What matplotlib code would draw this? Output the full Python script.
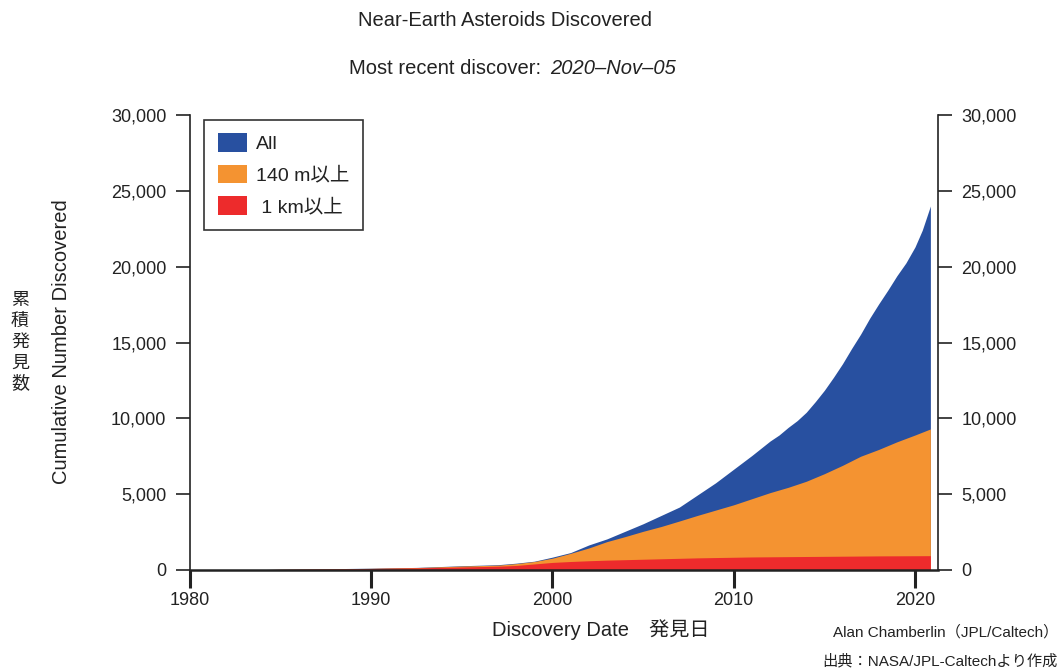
import matplotlib.pyplot as plt
from matplotlib.patches import Patch

plt.rcParams['font.family'] = ['Liberation Sans', 'Noto Sans CJK JP']

# 累積発見数（千個単位で読み取り）
# All は後半の曲がりが大きいので半年刻み
years_all = [1983.7, 1985.0, 1988.0, 1990.0, 1992.5, 1995.0, 1997.0, 1998.0, 1999.0,
             2000.0, 2001.0, 2002.0, 2003.0, 2004.0, 2005.0, 2006.0, 2007.0, 2008.0,
             2009.0, 2010.0, 2011.0, 2012.0, 2012.5, 2013.0, 2013.5, 2014.0, 2014.5,
             2015.0, 2015.5, 2016.0, 2016.5, 2017.0, 2017.5, 2018.0, 2018.5, 2019.0,
             2019.5, 2020.0, 2020.4, 2020.85]
all_k = [0.02, 0.05, 0.09, 0.12, 0.17, 0.28, 0.35, 0.45, 0.58,
         0.85, 1.15, 1.65, 2.05, 2.55, 3.05, 3.6, 4.15, 4.95,
         5.75, 6.65, 7.55, 8.5, 8.9, 9.4, 9.85, 10.4, 11.1,
         11.85, 12.7, 13.6, 14.6, 15.55, 16.6, 17.55, 18.45, 19.4,
         20.25, 21.3, 22.4, 24.0]

years = [1983.7, 1985.0, 1988.0, 1990.0, 1992.5, 1995.0, 1997.0, 1998.0, 1999.0,
         2000.0, 2001.0, 2002.0, 2003.0, 2004.0, 2005.0, 2006.0, 2007.0, 2008.0,
         2009.0, 2010.0, 2011.0, 2012.0, 2013.0, 2014.0, 2015.0, 2016.0, 2017.0,
         2018.0, 2019.0, 2020.0, 2020.85]
m140_k = [0.02, 0.05, 0.08, 0.11, 0.16, 0.26, 0.32, 0.42, 0.56,
          0.78, 1.1, 1.45, 1.87, 2.2, 2.55, 2.87, 3.23, 3.6,
          3.95, 4.3, 4.7, 5.1, 5.45, 5.85, 6.35, 6.9, 7.5,
          7.95, 8.45, 8.9, 9.3]
km1_k = [0.02, 0.04, 0.07, 0.1, 0.14, 0.2, 0.25, 0.3, 0.4,
         0.5, 0.56, 0.61, 0.65, 0.68, 0.71, 0.74, 0.77, 0.8,
         0.82, 0.84, 0.86, 0.87, 0.88, 0.89, 0.9, 0.91, 0.92,
         0.93, 0.935, 0.94, 0.945]

labels = ['All', '140 m以上', ' 1 km以上']
colors = ['#2850a0', '#f49331', '#ed2b2c']
yticks = [0, 5000, 10000, 15000, 20000, 25000, 30000]
xticks = [1980, 1990, 2000, 2010, 2020]

text_c = '#222222'

fig = plt.figure(figsize=(10.62, 6.70), dpi=100)
ax = fig.add_axes([190 / 1062, 1 - 570 / 670, 748 / 1062, 455 / 670])

# 面グラフ（後ろから順に重ねる）
series = [(years_all, all_k), (years, m140_k), (years, km1_k)]
for (xs, vals), c in zip(series, colors):
    ax.fill_between(xs, [v * 1000 for v in vals], 0, color=c, linewidth=0)

ax.set_xlim(1980, 2021.27)
ax.set_ylim(0, 30000)
ax.set_xticks(xticks)
ax.set_yticks(yticks)
ax.set_yticklabels([f'{v:,}' for v in yticks])

ax.spines['top'].set_visible(False)
for s in ['left', 'right']:
    ax.spines[s].set_linewidth(1.2)
    ax.spines[s].set_color(text_c)
ax.spines['bottom'].set_linewidth(1.8)
ax.spines['bottom'].set_color(text_c)

ax.tick_params(axis='y', which='both', left=True, right=True, labelleft=True,
               labelright=True, direction='out', length=10, width=1.2,
               pad=7, labelsize=13, colors=text_c)
ax.tick_params(axis='x', direction='out', length=13, width=2.2, pad=3,
               labelsize=13, colors=text_c)

# 凡例
handles = [Patch(facecolor=c, edgecolor='none') for c in colors]
leg = ax.legend(handles, labels, loc='upper left', bbox_to_anchor=(0.019, 0.99),
                borderaxespad=0, fontsize=14, handlelength=1.5, handleheight=1.1,
                handletextpad=0.45, labelspacing=0.6, borderpad=0.7,
                fancybox=False, framealpha=1)
leg.get_frame().set_edgecolor('#333333')
leg.get_frame().set_linewidth(1.2)
for t in leg.get_texts():
    t.set_color(text_c)

# タイトルとラベル
fig.text(505 / 1062, 1 - 20 / 670, 'Near-Earth Asteroids Discovered',
         ha='center', va='center', fontsize=14.5, color=text_c)
fig.text(541 / 1062, 1 - 68 / 670, 'Most recent discover:',
         ha='right', va='center', fontsize=14.5, color=text_c)
fig.text(550 / 1062, 1 - 68 / 670, '2020–Nov–05', ha='left', va='center',
         fontsize=14.5, style='italic', color=text_c)

fig.text(62 / 1062, 1 - 342 / 670, 'Cumulative Number Discovered', rotation=90,
         ha='center', va='center', fontsize=14.5, color=text_c)
fig.text(20 / 1062, 1 - 342 / 670, '\n'.join('累積発見数'), ha='center',
         va='center', fontsize=13, linespacing=1.3, color=text_c)
fig.text(601 / 1062, 1 - 630 / 670, 'Discovery Date　発見日', ha='center',
         va='center', fontsize=14.5, color=text_c)

fig.text(1058 / 1062, 1 - 632 / 670, 'Alan Chamberlin（JPL/Caltech）',
         ha='right', va='center', fontsize=11, color=text_c)
fig.text(1058 / 1062, 1 - 661 / 670, '出典：NASA/JPL-Caltechより作成',
         ha='right', va='center', fontsize=11, color=text_c)

fig.savefig('out.png', dpi=100)
plt.close(fig)
